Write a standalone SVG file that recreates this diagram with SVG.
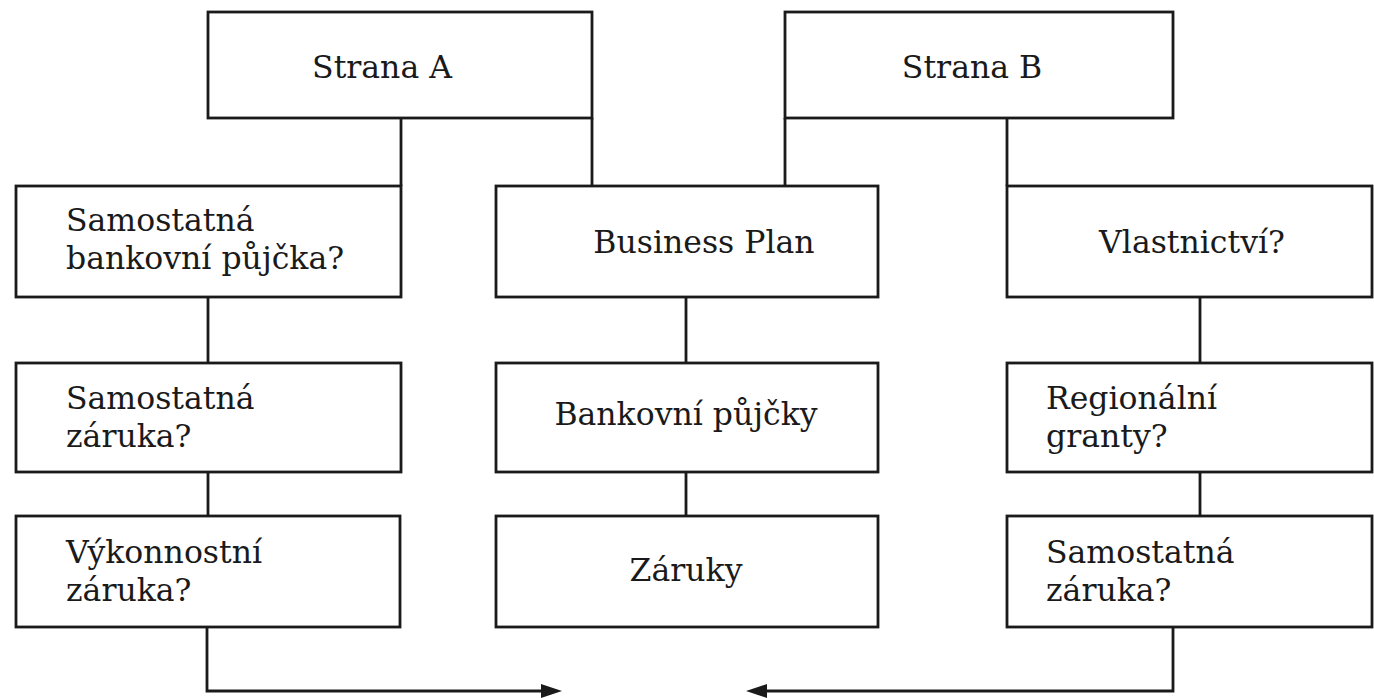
<svg xmlns="http://www.w3.org/2000/svg" width="1374" height="698" viewBox="0 0 1374 698">
<defs>
<style>
.box{fill:#fff;stroke:#1a1a1a;stroke-width:2.8}
.t{font-family:"DejaVu Serif","Liberation Serif",serif;font-size:31.5px;fill:#1a1a1a}
.c{text-anchor:middle}
.ln{fill:none;stroke:#1a1a1a;stroke-width:2.8}
</style>
</defs>
<rect width="1374" height="698" fill="#fff"/>
<g id="connectors">
<line class="ln" x1="401" y1="118" x2="401" y2="186"/>
<line class="ln" x1="592" y1="118" x2="592" y2="186"/>
<line class="ln" x1="785" y1="118" x2="785" y2="186"/>
<line class="ln" x1="1007" y1="118" x2="1007" y2="186"/>
<line class="ln" x1="208" y1="297" x2="208" y2="363"/>
<line class="ln" x1="208" y1="472" x2="208" y2="516"/>
<line class="ln" x1="686" y1="297" x2="686" y2="363"/>
<line class="ln" x1="686" y1="472" x2="686" y2="516"/>
<line class="ln" x1="1200" y1="297" x2="1200" y2="363"/>
<line class="ln" x1="1200" y1="472" x2="1200" y2="516"/>
<path class="ln" d="M207,627 V691 H543"/>
<path d="M541,684 L562,691 L541,698 z" fill="#1a1a1a"/>
<path class="ln" d="M1173,627 V691 H765"/>
<path d="M767,684 L746,691 L767,698 z" fill="#1a1a1a"/>
</g>
<g id="stranaA"><rect class="box" x="208" y="12" width="384" height="106"/><text class="t c" x="382" y="78">Strana A</text></g>
<g id="stranaB"><rect class="box" x="785" y="12" width="388" height="106"/><text class="t c" x="972" y="78">Strana B</text></g>
<g id="a1"><rect class="box" x="16" y="186" width="385" height="111"/><text class="t" x="66" y="231">Samostatná</text><text class="t" x="66" y="269">bankovní půjčka?</text></g>
<g id="a2"><rect class="box" x="16" y="363" width="385" height="109"/><text class="t" x="66" y="409">Samostatná</text><text class="t" x="66" y="447">záruka?</text></g>
<g id="a3"><rect class="box" x="16" y="516" width="384" height="111"/><text class="t" x="66" y="563">Výkonnostní</text><text class="t" x="66" y="601">záruka?</text></g>
<g id="b1"><rect class="box" x="496" y="186" width="382" height="111"/><text class="t c" x="704" y="253">Business Plan</text></g>
<g id="b2"><rect class="box" x="496" y="363" width="382" height="109"/><text class="t c" x="686" y="425">Bankovní půjčky</text></g>
<g id="b3"><rect class="box" x="496" y="516" width="382" height="111"/><text class="t c" x="686" y="581">Záruky</text></g>
<g id="c1"><rect class="box" x="1007" y="186" width="365" height="111"/><text class="t c" x="1192" y="253">Vlastnictví?</text></g>
<g id="c2"><rect class="box" x="1007" y="363" width="365" height="109"/><text class="t" x="1046" y="409">Regionální</text><text class="t" x="1046" y="447">granty?</text></g>
<g id="c3"><rect class="box" x="1007" y="516" width="365" height="111"/><text class="t" x="1046" y="563">Samostatná</text><text class="t" x="1046" y="601">záruka?</text></g>
</svg>
